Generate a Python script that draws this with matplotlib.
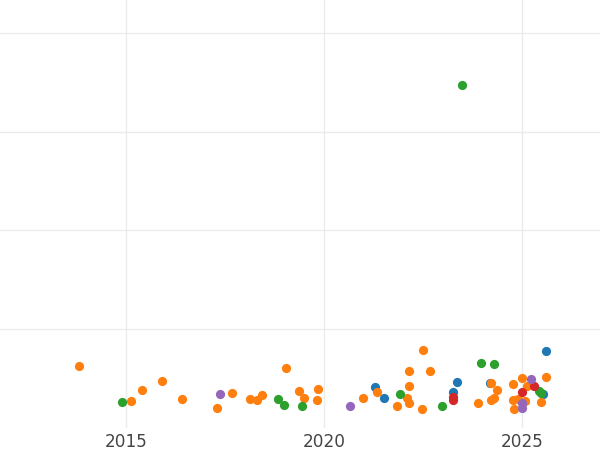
import numpy as np
import matplotlib
matplotlib.use("Agg")
import matplotlib.pyplot as plt

# year (decimal) and value for each group
blue_x = [2021.30, 2021.52, 2023.25, 2023.37, 2024.20, 2025.54, 2025.61]
blue_y = [20.4, 15.1, 18.2, 23.2, 22.4, 17.0, 38.8]

orange_x = [2013.82, 2015.13, 2015.40, 2015.91, 2016.41, 2017.29, 2017.68,
            2018.13, 2018.30, 2018.43, 2019.04, 2019.38, 2019.50, 2019.85,
            2019.83, 2020.98, 2021.35, 2022.09, 2022.14, 2021.84, 2022.14,
            2022.14, 2022.50, 2022.69, 2022.47, 2024.21, 2024.36, 2023.90,
            2024.21, 2024.30, 2024.77, 2024.99, 2025.61, 2025.13, 2024.78,
            2024.91, 2025.08, 2024.80, 2025.48]
orange_y = [31.2, 13.5, 18.9, 23.6, 14.6, 9.9, 17.7,
            14.3, 14.0, 16.3, 30.1, 18.5, 15.1, 19.7,
            13.8, 15.1, 18.2, 14.8, 12.4, 10.8, 20.9,
            28.7, 39.5, 28.7, 9.4, 22.7, 19.0, 12.3,
            14.0, 14.8, 21.9, 25.0, 25.6, 20.9, 14.0,
            14.3, 13.6, 9.2, 12.8]

green_x = [2014.90, 2018.84, 2019.00, 2019.44, 2021.92, 2022.99, 2023.96,
           2024.30, 2025.42, 2025.48, 2023.48]
green_y = [12.8, 14.5, 11.6, 10.8, 16.9, 10.8, 32.6,
           32.4, 18.3, 17.3, 173.9]

red_x = [2023.25, 2023.25, 2024.99, 2025.30]
red_y = [15.6, 14.0, 18.0, 21.1]

purple_x = [2017.38, 2020.66, 2025.22, 2024.99, 2024.99]
purple_y = [17.0, 10.8, 24.6, 12.3, 9.7]

groups = [
    (blue_x, blue_y, "#1f77b4"),
    (orange_x, orange_y, "#ff7f0e"),
    (green_x, green_y, "#2ca02c"),
    (red_x, red_y, "#d62728"),
    (purple_x, purple_y, "#9467bd"),
]

fig = plt.figure(figsize=(6, 4.5), dpi=100)
ax = fig.add_axes([0, 0.05, 1, 0.95])

for xs, ys, c in groups:
    ax.scatter(xs, ys, s=44, color=c, linewidths=0, zorder=3)

ax.set_xlim(2011.82, 2026.97)
ax.set_ylim(0, 217)
ax.set_xticks([2015, 2020, 2025])
ax.set_yticks([50, 100, 150, 200])
ax.set_yticklabels([])
ax.tick_params(axis="both", length=0)
ax.tick_params(axis="x", labelsize=12.2, labelcolor="#444444", pad=4)
for s in ax.spines.values():
    s.set_visible(False)
ax.grid(color="#ebebeb", linewidth=1.0, zorder=0)
ax.set_axisbelow(True)

plt.savefig("out.png", dpi=100)
